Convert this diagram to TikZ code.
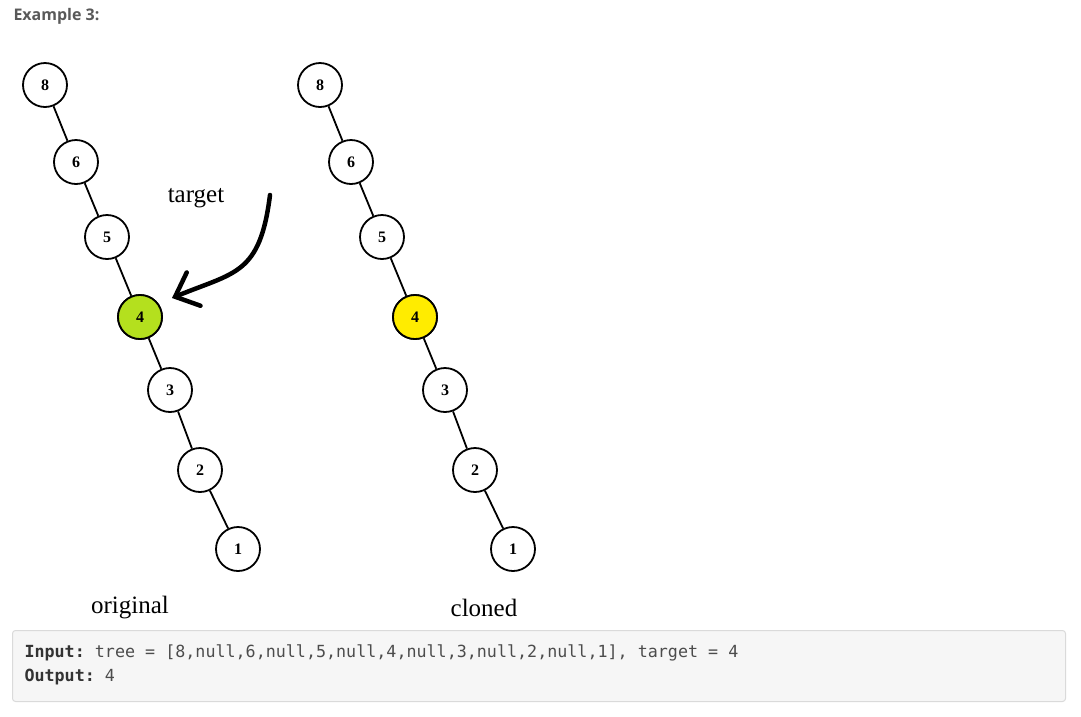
\documentclass[tikz,border=0pt]{standalone}
\usepackage{fontspec}
\setmainfont{Liberation Serif}
\setmonofont{DejaVu Sans Mono}
\newfontfamily\headfont{Open Sans}
\usepackage{tikz}
\usetikzlibrary{arrows.meta,shapes}
\definecolor{limegreen}{RGB}{180,224,30}
\definecolor{brightyellow}{RGB}{255,236,0}
\definecolor{codebg}{RGB}{246,246,246}
\definecolor{codeborder}{RGB}{218,218,218}
\tikzstyle{vertex}=[circle,draw=black,line width=1.8pt,fill=white,minimum size=44pt,inner sep=0pt,font=\fontsize{16}{16}\selectfont\bfseries]
\tikzstyle{target vertex} = [vertex, fill=limegreen]
\tikzstyle{cloned vertex} = [vertex, fill=brightyellow]
\tikzstyle{edge} = [draw,line width=1.8pt]
\tikzstyle{caption} = [font=\fontsize{25}{25}\selectfont]
\tikzstyle{pointer} = [draw,line width=4.5pt,line cap=round,-{Straight Barb[length=20pt,width=36pt,line cap=round]}]

\begin{document}
\begin{tikzpicture}[x=1pt,y=-1pt]
    \useasboundingbox (0,0) rectangle (1081,716);
    \node[anchor=west,text=black!65,font=\headfont\fontsize{16}{16}\selectfont\bfseries] (title) at (10,16) {Example 3:};
    % original tree
    \foreach \pos/\name in {{(45,85)/8}, {(76,162)/6}, {(107,237)/5}, {(140,317)/4},{(170,390)/3}, {(200,470)/2}, {(238,549)/1}}
        \node[vertex] (o\name) at \pos {\name};
    % cloned tree
    \foreach \pos/\name in {{(320,85)/8}, {(351,162)/6}, {(382,237)/5}, {(415,317)/4},{(445,390)/3}, {(475,470)/2}, {(513,549)/1}}
        \node[vertex] (c\name) at \pos {\name};
    \foreach \parent/\child in {8/6,6/5,5/4,4/3,3/2,2/1}
        \path[edge] (o\parent) -- (o\child) (c\parent) -- (c\child);
    \node[target vertex] at (o4) {4};
    \node[cloned vertex] at (c4) {4};
    \node[caption] (targetlabel) at (196,198) {target};
    \coordinate (arrowstart) at (270,195);
    \coordinate (arrowtip) at (172,298);
    \path[pointer] (arrowstart) .. controls (260,275) and (235,272) .. (arrowtip);
    \node[caption] (original) at (130,608) {original};
    \node[caption] (cloned) at (484,608) {cloned};
    % example box
    \node[draw=codeborder,fill=codebg,line width=1pt,rounded corners=3pt,minimum width=1053pt,minimum height=71pt,anchor=north west] (codebox) at (12,630) {};
    \node[anchor=west,font=\ttfamily\fontsize{16.7}{16.7}\selectfont,text=black!70] (inputline) at (21,653) {\textbf{\color{black!80}Input:} tree = [8,null,6,null,5,null,4,null,3,null,2,null,1], target = 4};
    \node[anchor=west,font=\ttfamily\fontsize{16.7}{16.7}\selectfont,text=black!70] (outputline) at (21,677) {\textbf{\color{black!80}Output:} 4};
\end{tikzpicture}
\end{document}
